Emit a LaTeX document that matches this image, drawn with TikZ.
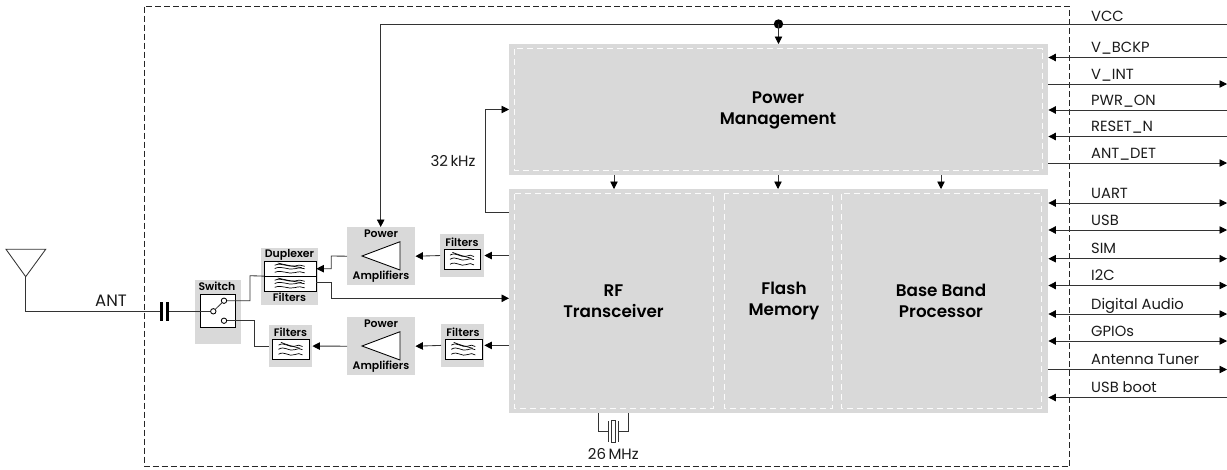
\documentclass[tikz,border=0pt]{standalone}
\usepackage{fontspec}
\setmainfont{Poppins}[BoldFont={Poppins SemiBold}]
\usetikzlibrary{arrows.meta,calc}
\definecolor{blockgray}{HTML}{D9D9D9}
\definecolor{linec}{HTML}{333333}
\definecolor{textc}{HTML}{1A1A1A}
\tikzset{
  conn/.style={draw=linec,line width=0.85pt},
  arr/.style={conn,-{Triangle[length=7.5pt,width=7.5pt,color=black]}},
  barr/.style={conn,{Triangle[length=7.5pt,width=7.5pt,color=black]}-{Triangle[length=7.5pt,width=7.5pt,color=black]}},
  rarr/.style={conn,{Triangle[length=7.5pt,width=7.5pt,color=black]}-},
  graybox/.style={fill=blockgray,draw=none,inner sep=0pt,anchor=north west},
  whitebox/.style={fill=white,draw=black,line width=0.9pt,inner sep=0pt,anchor=north west},
  innerdash/.style={draw=white!90!blockgray,line width=1pt,dash pattern=on 6pt off 4pt},
  outerdash/.style={draw=black!85,line width=1pt,dash pattern=on 6pt off 3pt},
  sig/.style={font=\fontsize{14.7}{16}\selectfont,text=textc,anchor=base west,inner sep=0pt},
  bigl/.style={font=\fontsize{16.8}{21}\selectfont\bfseries,text=black,align=center,inner sep=0pt},
  smalll/.style={font=\fontsize{10.9}{12}\selectfont\bfseries,text=black,inner sep=0pt},
  freql/.style={font=\fontsize{15}{16}\selectfont,text=textc,inner sep=0pt},
  antl/.style={font=\fontsize{16.5}{18}\selectfont,text=textc,inner sep=0pt},
  wave/.style={draw=black,line width=0.7pt},
  pin/.style={circle,fill=white,draw=black,line width=0.85pt,inner sep=0pt,minimum size=5.4pt},
}
\newcommand{\wavesicon}[4]{% centre x, centre y, half width, half height
  \begin{scope}[shift={(#1,#2)}]
    \draw[wave] (-#3,-#4*0.55) .. controls (-#3*0.5,-#4*1.1) and (-#3*0.1,-#4*0.1) .. (#3*0.35,-#4*0.4) .. controls (#3*0.6,-#4*0.6) and (#3*0.8,-#4*0.6) .. (#3,-#4*0.35);
    \draw[wave] (-#3*0.8,-#4*0.95) .. controls (-#3*0.3,-#4*0.6) and (#3*0.1,-#4*0.4) .. (#3*0.8,-#4*0.1);
    \draw[wave] (-#3,#4*0.05) .. controls (-#3*0.5,-#4*0.55) and (-#3*0.1,#4*0.45) .. (#3*0.35,#4*0.1) .. controls (#3*0.6,-#4*0.1) and (#3*0.8,-#4*0.1) .. (#3,#4*0.1);
    \draw[wave] (-#3,#4*0.75) .. controls (-#3*0.5,#4*0.2) and (-#3*0.1,#4*1.2) .. (#3*0.35,#4*0.8) .. controls (#3*0.6,#4*0.6) and (#3*0.8,#4*0.6) .. (#3,#4*0.85);
  \end{scope}}
\begin{document}
\begin{tikzpicture}[x=1pt,y=-1pt]
\useasboundingbox (0,0) rectangle (1227,469);
% outer module border
\draw[outerdash] (144.5,6.5) rectangle (1069.5,466.5);
% main blocks
\node[graybox,minimum width=539pt,minimum height=131pt] (pm) at (509,44) {};
\node[graybox,minimum width=539pt,minimum height=224pt] (core) at (509,189) {};
\draw[innerdash] (514,48.7) rectangle (1042,170);
\draw[innerdash] (514,193.5) rectangle (713,408);
\draw[innerdash] (724,193.5) rectangle (832,408);
\draw[innerdash] (841.5,193.5) rectangle (1041,408);
\node[bigl] (pmt) at (778,110) {Power\\Management};
\node[bigl] (rft) at (613.5,301) {RF\\Transceiver};
\node[bigl] (flt) at (784,301) {Flash\\Memory};
\node[bigl] (bbt) at (941,301) {Base Band\\Processor};
% internal arrows
\coordinate (a1) at (614,175);\coordinate (a2) at (778,175);\coordinate (a3) at (941,175);
\draw[arr] (a1) -- (a1 |- core.north);
\draw[arr] (a2) -- (a2 |- core.north);
\draw[arr] (a3) -- (a3 |- core.north);
% 32 kHz
\coordinate (k1) at (509,212);\coordinate (k2) at (485.5,212);\coordinate (k3) at (485.5,109.5);
\draw[arr] (k1) -- (k2) -- (k3) -- (k3 -| pm.west);
\node[freql] (k32) at (453,160.5) {32\,kHz};
% RF chain blocks
\node[graybox,minimum width=68pt,minimum height=58pt] (pa1) at (347,227) {};
\node[graybox,minimum width=68pt,minimum height=58pt] (pa2) at (347,317) {};
\node[graybox,minimum width=44pt,minimum height=42.7pt] (f1) at (440,234) {};
\node[graybox,minimum width=43pt,minimum height=43pt] (f2) at (441,323.7) {};
\node[graybox,minimum width=43pt,minimum height=41.7pt] (f3) at (269,325) {};
\node[graybox,minimum width=57pt,minimum height=57.4pt] (dup) at (261,247.3) {};
\node[graybox,minimum width=46pt,minimum height=64pt] (sw) at (195,280) {};
% labels
\node[smalll] (t1) at (381,234) {Power};
\node[smalll] (t2) at (381,276.5) {Amplifiers};
\node[smalll] (t3) at (381,324) {Power};
\node[smalll] (t4) at (381,366.5) {Amplifiers};
\node[smalll] (t5) at (462,242) {Filters};
\node[smalll] (t6) at (463,332) {Filters};
\node[smalll] (t7) at (290.5,332.5) {Filters};
\node[smalll] (t8) at (289.5,297) {Filters};
\node[smalll] (t9) at (289.5,254.5) {Duplexer};
\node[smalll] (t10) at (217,286.5) {Switch};
% amplifier triangles
\draw[fill=white,draw=black,line width=0.85pt] (362,256) -- (400,241.7) -- (400,270) -- cycle;
\draw[fill=white,draw=black,line width=0.85pt] (362,346) -- (400,331.7) -- (400,360) -- cycle;
% filter boxes
\node[whitebox,minimum width=36.6pt,minimum height=19.4pt] (fb1) at (443.7,249.3) {};
\node[whitebox,minimum width=36.6pt,minimum height=19.4pt] (fb2) at (445,339.3) {};
\node[whitebox,minimum width=36.4pt,minimum height=19.4pt] (fb3) at (272.3,339.3) {};
\node[whitebox,minimum width=51.5pt,minimum height=30pt] (db) at (264,260.7) {};
\draw[draw=black,line width=0.9pt] (db.west) -- (db.east);
\wavesicon{462}{259}{12}{7}
\wavesicon{463.3}{349}{12}{7}
\wavesicon{290.5}{349}{12}{7}
\wavesicon{289.7}{268.2}{15}{5.5}
\wavesicon{289.7}{283.2}{15}{5.5}
% switch
\node[whitebox,minimum width=35pt,minimum height=32.4pt] (swb) at (200,294.3) {};
\node[pin] (p0) at (213.3,311.3) {};
\node[pin] (p1) at (224,300.7) {};
\node[pin] (p2) at (224,320.7) {};
\draw[conn] (p0) -- (p1);
% chain connectors
\coordinate (vcc) at (1227,24);
\coordinate (vc) at (380.7,24);
\coordinate (vdot) at (778.5,24);
\draw[conn] (vcc) -- (vc);
\draw[arr] (vc) -- (vc |- pa1.north);
\fill[black] (vdot) circle (4.7pt);
\draw[arr] (vdot) -- (vdot |- pm.north);
\draw[arr] (core.west |- f1.west) -- (f1.east);
\draw[arr] (f1.west) -- (pa1.east);
\draw[arr] (core.west |- f2.west) -- (f2.east);
\draw[arr] (f2.west) -- (pa2.east);
\draw[arr] (pa2.west) -- (f3.east);
\coordinate (d1) at (331.3,268.7);\coordinate (d2) at (331.3,256);
\draw[arr] (pa1.west) -- (d2) -- (d1) -- (d1 -| db.east);
\coordinate (d3) at (331.3,282.7);\coordinate (d4) at (331.3,298.3);
\draw[conn] (d3 -| db.east) -- (d3) -- (d4);
\draw[arr] (d4) -- (d4 -| core.west);
\coordinate (s1) at (250,300.7);\coordinate (s2) at (250,275.7);
\draw[conn] (p1) -- (s1) -- (s2) -- (db.west);
\coordinate (s3) at (254.3,320.7);\coordinate (s4) at (254.3,346);
\draw[conn] (p2) -- (s3) -- (s4) -- (s4 -| f3.west);
% antenna
\coordinate (an1) at (6,249.3);\coordinate (an2) at (45.7,249.3);\coordinate (an3) at (25.7,276.7);
\coordinate (an4) at (25.7,311.3);\coordinate (c1) at (161.5,311.3);\coordinate (c2) at (167.5,311.3);
\draw[conn] (an1) -- (an2) -- (an3) -- cycle;
\draw[conn] (an3) -- (an4) -- (c1);
\draw[conn] (c2) -- (swb.west |- c2) -- (p0);
\draw[draw=black,line width=2.2pt] (161.5,302) -- (161.5,320.7);
\draw[draw=black,line width=2.2pt] (167.5,302) -- (167.5,320.7);
\node[antl] (ant) at (111,300.5) {ANT};
% crystal
\coordinate (x1) at (598.3,413);\coordinate (x2) at (628.3,413);
\coordinate (x3) at (598.3,431.5);\coordinate (x4) at (628.3,431.5);
\coordinate (x5) at (608.5,431.5);\coordinate (x6) at (618.5,431.5);
\draw[conn] (x1) -- (x3) -- (x5);
\draw[conn] (x2) -- (x4) -- (x6);
\draw[conn] (608.5,421) -- (608.5,441.5);
\draw[conn] (618.5,421) -- (618.5,441.5);
\draw[conn] (611.7,420) rectangle (615.3,442);
\node[freql] (x26) at (613.3,454) {26\,MHz};
% signals
\foreach \nm/\yy/\lab/\sty in {
  vb/57.5/V\_BCKP/rarr,
  vi/84/V\_INT/arr,
  po/110/PWR\_ON/rarr,
  rs/136.5/RESET\_N/rarr,
  ad/163/ANT\_DET/arr}{
  \coordinate (e\nm) at (1227,\yy);
  \coordinate (w\nm) at (pm.east |- e\nm);
  \draw[\sty] (w\nm) -- (e\nm);
  \node[sig] (l\nm) at ($(1091,\yy)+(0,-5)$) {\lab};
}
\foreach \nm/\yy/\lab/\sty in {
  ua/203/UART/barr,
  ub/230/USB/barr,
  si/258.7/SIM/barr,
  ic/285.5/I2C/barr,
  da/314/Digital Audio/barr,
  gp/341/GPIOs/barr,
  at/369.5/Antenna Tuner/arr,
  bo/397.5/USB boot/rarr}{
  \coordinate (e\nm) at (1227,\yy);
  \coordinate (w\nm) at (core.east |- e\nm);
  \draw[\sty] (w\nm) -- (e\nm);
  \node[sig] (l\nm) at ($(1091,\yy)+(0,-5)$) {\lab};
}
\node[sig] (lvcc) at (1091,21) {VCC};
\end{tikzpicture}
\end{document}
